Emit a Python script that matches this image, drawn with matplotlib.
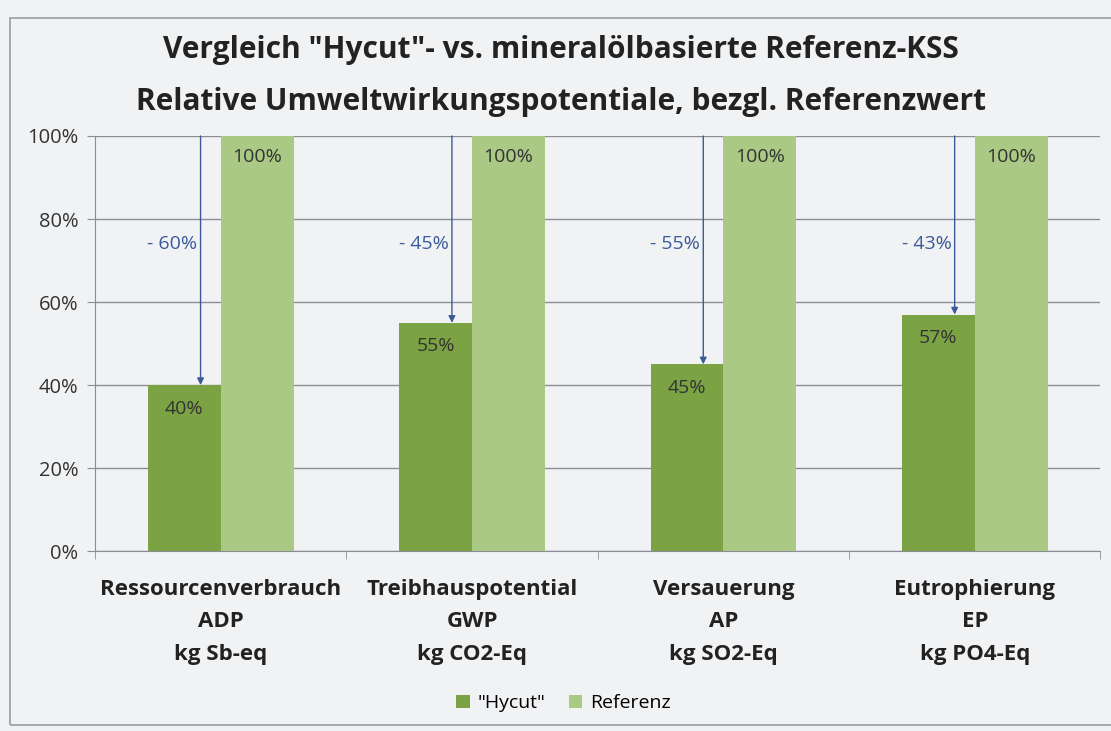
import numpy as np
import matplotlib.pyplot as plt
from matplotlib.patches import Rectangle

# Data
categories = ["Ressourcenverbrauch\nADP\nkg Sb-eq",
              "Treibhauspotential\nGWP\nkg CO2-Eq",
              "Versauerung\nAP\nkg SO2-Eq",
              "Eutrophierung\nEP\nkg PO4-Eq"]
hycut = [40, 55, 45, 57]
referenz = [100, 100, 100, 100]
reduction = ["- 60%", "- 45%", "- 55%", "- 43%"]
yticks = [0, 20, 40, 60, 80, 100]

c_hycut = "#7ba343"
c_ref = "#a9c984"
bg = "#f1f2f4"
font = ["Open Sans", "DejaVu Sans"]
plt.rcParams['font.family'] = font

fig = plt.figure(figsize=(11.11, 7.31), dpi=100, facecolor=bg)
ax = fig.add_axes([0.0855, 0.246, 0.905, 0.568])
ax.set_facecolor(bg)

x = np.arange(len(categories))
w = 0.29
b1 = ax.bar(x - w / 2, hycut, w, color=c_hycut, zorder=3)
b2 = ax.bar(x + w / 2, referenz, w, color=c_ref, zorder=3)

for i in range(len(categories)):
    ax.text(x[i] - w / 2, hycut[i] - 3.5, f"{hycut[i]}%", ha='center', va='top',
            fontsize=14, color="#333333", zorder=4)
    ax.text(x[i] + w / 2, referenz[i] - 3, f"{referenz[i]}%", ha='center', va='top',
            fontsize=14, color="#333333", zorder=4)
    ax_x = x[i] - w / 2 + 0.065
    ax.annotate("", xy=(ax_x, hycut[i]), xytext=(ax_x, 100),
                arrowprops=dict(arrowstyle='-|>', color="#3b5a9a", lw=1.0,
                                mutation_scale=10, shrinkA=0, shrinkB=0), zorder=5)
    ax.text(ax_x - 0.012, 74, reduction[i], ha='right', va='center',
            fontsize=14, color="#3b5a9a", zorder=5)

ax.set_xlim(-0.5, len(categories) - 0.5)
ax.set_ylim(0, 100)
ax.set_yticks(yticks)
ax.set_yticklabels([f"{t}%" for t in yticks], fontsize=14.5, color="#333333")
ax.yaxis.grid(True, color="#8a8d96", lw=1.0, zorder=1)
ax.set_xticks(x)
ax.set_xticklabels(categories, fontsize=16, fontweight='bold', color="#222222",
                   linespacing=1.72)
ax.set_xticks(np.arange(len(categories) + 1) - 0.5, minor=True)
ax.tick_params(axis='x', which='major', length=0, pad=20)
ax.tick_params(axis='x', which='minor', length=6, color="#8a8d96")
ax.tick_params(axis='y', length=6, color="#8a8d96", pad=6)
for s in ['top', 'right']:
    ax.spines[s].set_visible(False)
for s in ['left', 'bottom']:
    ax.spines[s].set_color("#8a8d96")

fig.text(0.505, 0.931, 'Vergleich "Hycut"- vs. mineralölbasierte Referenz-KSS',
         ha='center', va='center', fontsize=21.5, fontweight='bold', color="#222222")
fig.text(0.505, 0.86, 'Relative Umweltwirkungspotentiale, bezgl. Referenzwert',
         ha='center', va='center', fontsize=21.5, fontweight='bold', color="#222222")

leg = fig.legend([b1, b2], ['"Hycut"', 'Referenz'], loc='center', bbox_to_anchor=(0.507, 0.038),
                 ncol=2, frameon=False, fontsize=14, handlelength=0.7, handleheight=0.7,
                 handletextpad=0.4, columnspacing=1.2)

fig.patches.append(Rectangle((0.009, 0.008), 1.2, 0.968, transform=fig.transFigure,
                             fill=False, edgecolor="#9a9ca2", lw=1.2))

fig.savefig("out.png", dpi=100, facecolor=bg)
